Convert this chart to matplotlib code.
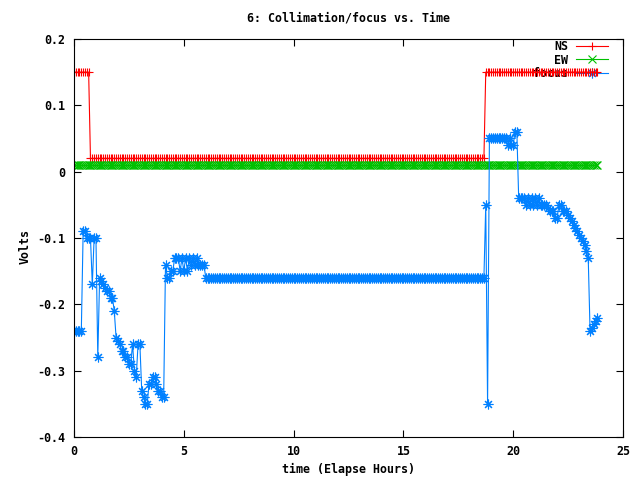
import matplotlib
matplotlib.use('Agg')
import matplotlib.pyplot as plt
import numpy as np
from matplotlib.ticker import FormatStrFormatter

# ---- data (one sample every 5 minutes) ----
sample_h = 1 / 12

focus = (
    [-0.24] * 5
    + [-0.09, -0.09, -0.10, -0.10, -0.10, -0.17, -0.10, -0.10, -0.28, -0.16]
    + [-0.165, -0.17, -0.175, -0.18, -0.18, -0.19, -0.19, -0.21, -0.25, -0.255,
       -0.26, -0.27, -0.27, -0.28, -0.28, -0.29, -0.29, -0.26, -0.30, -0.31,
       -0.26, -0.26, -0.33, -0.34, -0.35, -0.35, -0.32, -0.32, -0.31, -0.31,
       -0.32, -0.33, -0.33, -0.34, -0.34, -0.14, -0.16, -0.16, -0.15, -0.15,
       -0.13, -0.13, -0.13, -0.15, -0.13, -0.15, -0.13, -0.15, -0.13, -0.14,
       -0.13, -0.14, -0.13, -0.14, -0.14, -0.14, -0.14]
    + [-0.16] * 153
    + [-0.05, -0.35]
    + [0.05] * 10
    + [0.04, 0.05, 0.04, 0.04, 0.06, 0.06]
    + [-0.04, -0.04, -0.04, -0.04, -0.05, -0.04, -0.05, -0.04, -0.05, -0.04,
       -0.05, -0.04, -0.05, -0.05, -0.05, -0.05, -0.055, -0.06, -0.06, -0.06,
       -0.07, -0.07]
    + [-0.05, -0.05, -0.06, -0.06, -0.06, -0.065, -0.07, -0.075, -0.08, -0.085,
       -0.09, -0.095, -0.10, -0.105, -0.11, -0.12, -0.13]
    + [-0.24, -0.235, -0.23, -0.225, -0.22]
)
ns = [0.15] * 9 + [0.02] * 216 + [0.15] * 62
ew = [0.01] * 287

xticks = [0, 5, 10, 15, 20, 25]
yticks = [-0.4, -0.3, -0.2, -0.1, 0, 0.1, 0.2]

t = np.arange(len(focus)) * sample_h

# ---- plot ----
plt.rcParams['font.family'] = ['DejaVu Sans Mono']
plt.rcParams['font.size'] = 8.4
plt.rcParams['font.weight'] = 'bold'

fig = plt.figure(figsize=(6.4, 4.8), dpi=100)
ax = fig.add_axes([74/640, 1 - 437/480, (623 - 74)/640, (437 - 39)/480])

ax.plot(t, ns, color='#ff0000', lw=0.8, marker='+', ms=6, mew=0.8, label='NS')
ax.plot(t, ew, color='#00c000', lw=0.8, marker='x', ms=6, mew=0.8, label='EW')
ax.plot(t, focus, color='#0080ff', lw=0.8, marker=(8, 2, 0), ms=7, mew=0.8, label='focus')

ax.set_xlim(0, 25)
ax.set_ylim(-0.4, 0.2)
ax.set_xticks(xticks)
ax.set_yticks(yticks)
ax.yaxis.set_major_formatter(FormatStrFormatter('%g'))
ax.tick_params(direction='in', top=True, right=True, length=5, width=0.8, pad=6)
for s in ax.spines.values():
    s.set_linewidth(0.8)

leg = ax.legend(loc='upper right', bbox_to_anchor=((608 - 74)/549, (437 - 40)/398),
                frameon=False, markerfirst=False, numpoints=1, handlelength=2.75,
                handletextpad=0.65, labelspacing=0.05, borderpad=0, borderaxespad=0)
leg.set_zorder(1)

fig.text(348.5/640, 1 - 18/480, '6: Collimation/focus vs. Time', ha='center', va='center')
fig.text(348.5/640, 1 - 469/480, 'time (Elapse Hours)', ha='center', va='center')
fig.text(25/640, 1 - 247/480, 'Volts', ha='center', va='center', rotation=90)

fig.savefig('out.png', dpi=100)
